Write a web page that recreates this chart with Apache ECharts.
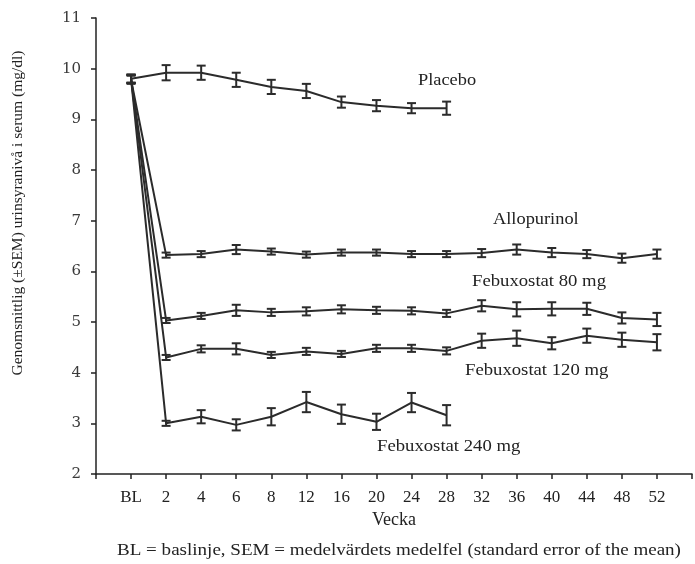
<!DOCTYPE html>
<html>
<head>
<meta charset="utf-8">
<script src="https://cdn.jsdelivr.net/npm/echarts@6/dist/echarts.min.js"></script>
<style>html,body{margin:0;padding:0;background:#fff}#c{width:695px;height:564px}</style>
</head>
<body>
<div id="c"></div>
<script>
const weeks = ['BL','2','4','6','8','12','16','20','24','28','32','36','40','44','48','52'];
const yTicks = [2,3,4,5,6,7,8,9,10,11];

const placebo      = [9.80, 9.92, 9.92, 9.78, 9.64, 9.56, 9.34, 9.27, 9.22, 9.22];
const placeboSem   = [0.08, 0.15, 0.14, 0.14, 0.14, 0.14, 0.11, 0.11, 0.10, 0.13];
const allopurinol    = [9.78, 6.32, 6.34, 6.43, 6.39, 6.33, 6.37, 6.37, 6.34, 6.34, 6.36, 6.43, 6.37, 6.34, 6.26, 6.34];
const allopurinolSem = [0.08, 0.05, 0.06, 0.09, 0.06, 0.06, 0.06, 0.06, 0.06, 0.06, 0.08, 0.10, 0.09, 0.08, 0.09, 0.09];
const feb80    = [9.80, 5.03, 5.12, 5.23, 5.19, 5.21, 5.25, 5.23, 5.22, 5.17, 5.32, 5.25, 5.26, 5.26, 5.08, 5.05];
const feb80Sem = [0.08, 0.05, 0.06, 0.11, 0.07, 0.08, 0.08, 0.07, 0.07, 0.07, 0.11, 0.14, 0.13, 0.12, 0.11, 0.13];
const feb120    = [9.80, 4.30, 4.47, 4.47, 4.35, 4.42, 4.37, 4.48, 4.48, 4.43, 4.63, 4.68, 4.58, 4.73, 4.65, 4.60];
const feb120Sem = [0.08, 0.05, 0.07, 0.11, 0.06, 0.07, 0.06, 0.07, 0.07, 0.07, 0.14, 0.15, 0.12, 0.14, 0.14, 0.16];
const feb240    = [9.80, 3.00, 3.13, 2.97, 3.13, 3.42, 3.18, 3.03, 3.41, 3.16];
const feb240Sem = [0.08, 0.05, 0.13, 0.11, 0.17, 0.20, 0.19, 0.16, 0.19, 0.20];

const seriesDefs = [
  {name:'Placebo', v:placebo, s:placeboSem},
  {name:'Allopurinol', v:allopurinol, s:allopurinolSem},
  {name:'Febuxostat 80 mg', v:feb80, s:feb80Sem},
  {name:'Febuxostat 120 mg', v:feb120, s:feb120Sem},
  {name:'Febuxostat 240 mg', v:feb240, s:feb240Sem}
];

const FONT = 'Liberation Serif';
const LINE = '#2b2b2b';
const TXT = '17px "Liberation Serif"';

const series = [];
seriesDefs.forEach(d => {
  series.push({
    type:'line', name:d.name, data:d.v.map((y,i)=>[i+1,y]),
    showSymbol:false, lineStyle:{color:LINE,width:2}, animation:false, z:3
  });
  series.push({
    type:'custom', name:d.name+' SEM',
    data:d.v.map((y,i)=>[i+1,y-d.s[i],y+d.s[i]]),
    renderItem:(params,api)=>{
      const lo = api.coord([api.value(0), api.value(1)]);
      const hi = api.coord([api.value(0), api.value(2)]);
      const hw = 4.5;
      const st = {stroke:LINE, lineWidth:2};
      return {type:'group', children:[
        {type:'line', shape:{x1:lo[0],y1:lo[1],x2:hi[0],y2:hi[1]}, style:st},
        {type:'line', shape:{x1:lo[0]-hw,y1:lo[1],x2:lo[0]+hw,y2:lo[1]}, style:st},
        {type:'line', shape:{x1:hi[0]-hw,y1:hi[1],x2:hi[0]+hw,y2:hi[1]}, style:st}
      ]};
    },
    animation:false, z:4
  });
});

const chart = echarts.init(document.getElementById('c'));
chart.setOption({
  backgroundColor:'#fff',
  animation:false,
  grid:{left:96, right:0, top:18, bottom:90, containLabel:false},
  xAxis:{
    type:'value', min:0, max:17, interval:1,
    axisLine:{lineStyle:{color:'#222', width:1.5}},
    axisTick:{show:true, length:5, inside:false, lineStyle:{color:'#222', width:1.5}},
    splitLine:{show:false},
    axisLabel:{margin:15, color:'#222', fontFamily:FONT, fontSize:17,
      formatter:v=> (v>=1 && v<=weeks.length) ? weeks[v-1] : ''},
    name:'Vecka', nameLocation:'middle', nameGap:37,
    nameTextStyle:{color:'#222', fontFamily:FONT, fontSize:18}
  },
  yAxis:{
    type:'value', min:yTicks[0], max:yTicks[yTicks.length-1], interval:1,
    axisLine:{show:true, lineStyle:{color:'#222', width:1.5}},
    axisTick:{show:true, length:5, lineStyle:{color:'#222', width:1.5}},
    splitLine:{show:false},
    axisLabel:{margin:15, color:'#3a3a3a', fontFamily:'DejaVu Serif', fontSize:15}
  },
  graphic:[
    {type:'text', left:418, top:72, scaleX:1.08, style:{text:'Placebo', font:TXT, fill:'#222'}},
    {type:'text', left:493, top:211, scaleX:1.08, style:{text:'Allopurinol', font:TXT, fill:'#222'}},
    {type:'text', left:472, top:273, scaleX:1.1, style:{text:'Febuxostat 80 mg', font:TXT, fill:'#222'}},
    {type:'text', left:465, top:362, scaleX:1.1, style:{text:'Febuxostat 120 mg', font:TXT, fill:'#222'}},
    {type:'text', left:377, top:438, scaleX:1.1, style:{text:'Febuxostat 240 mg', font:TXT, fill:'#222'}},
    {type:'text', x:18, y:213, rotation:Math.PI/2,
      style:{text:'Genomsnittlig (±SEM) urinsyranivå i serum (mg/dl)', font:'15.5px "Liberation Serif"', fill:'#222', textAlign:'center', textVerticalAlign:'middle'}},
    {type:'text', x:399, y:551, scaleX:1.12,
      style:{text:'BL = baslinje, SEM = medelvärdets medelfel (standard error of the mean)', font:TXT, fill:'#222', textAlign:'center', textVerticalAlign:'middle'}}
  ],
  series:series
});
</script>
</body>
</html>
